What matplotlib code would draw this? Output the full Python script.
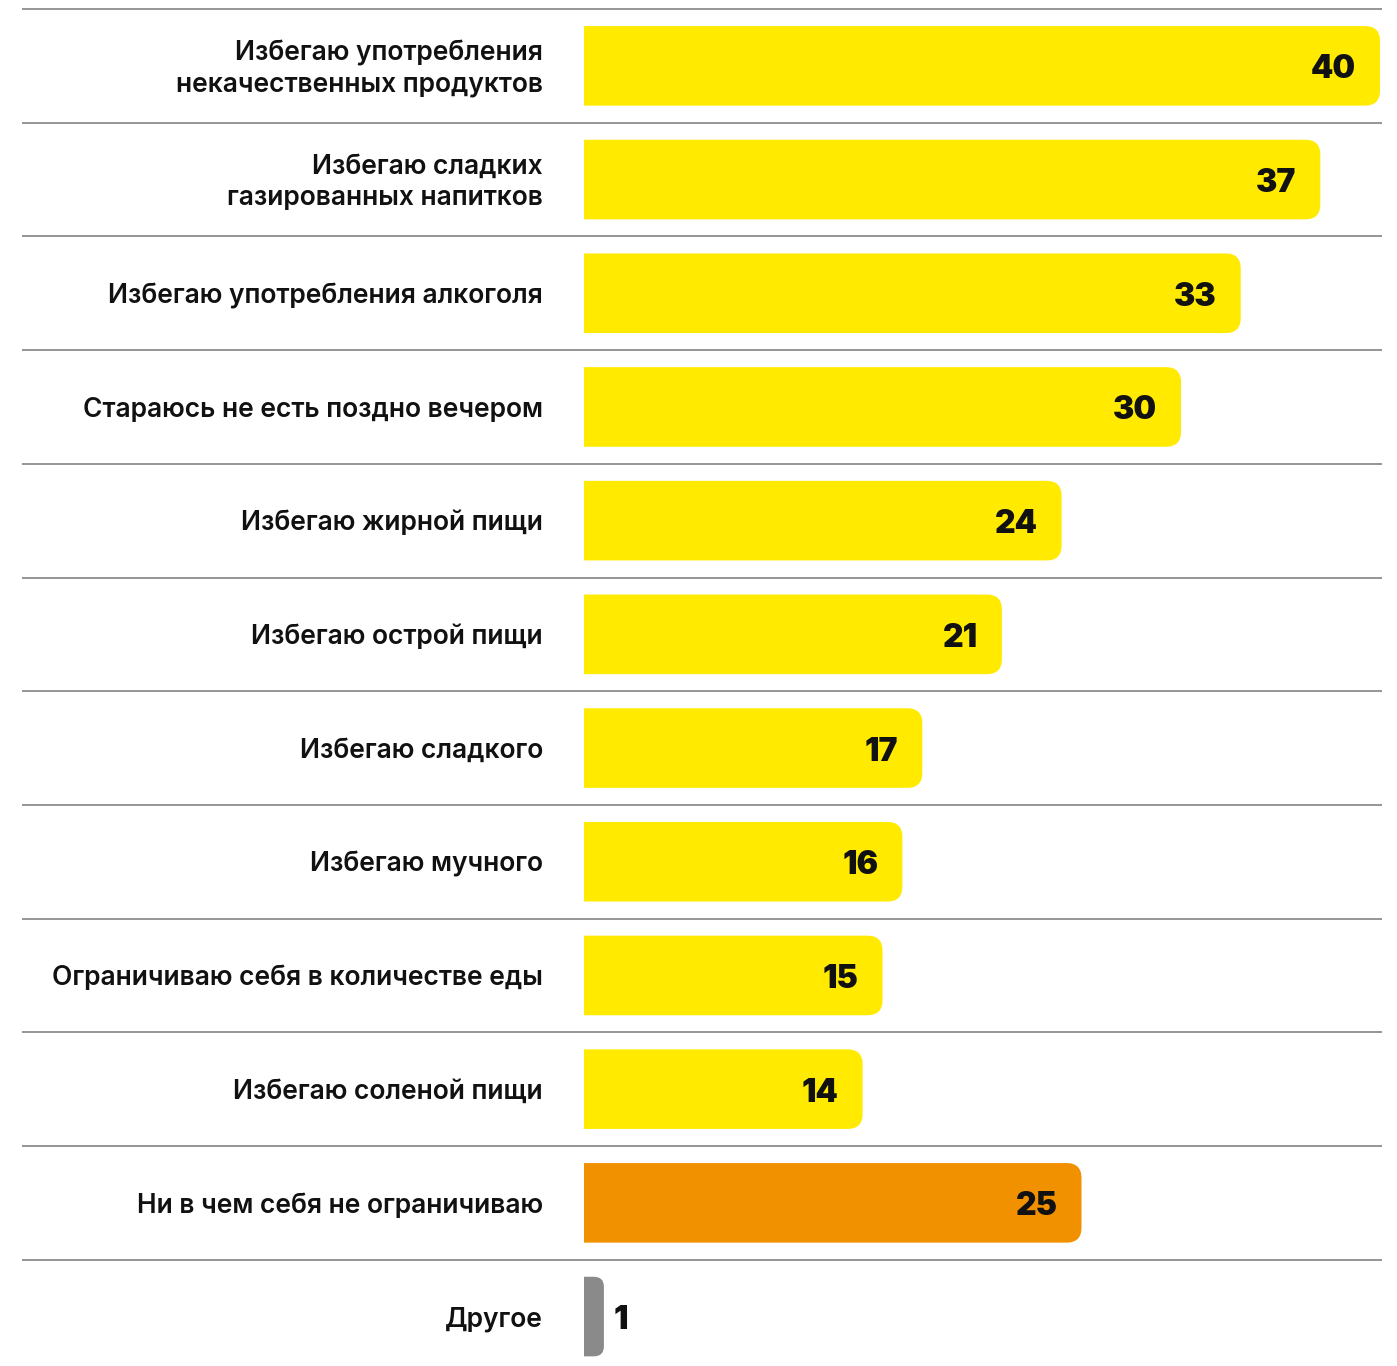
import matplotlib
matplotlib.use("Agg")
import matplotlib.pyplot as plt
from matplotlib.patches import PathPatch
from matplotlib.path import Path

# data
labels = [
    "Избегаю употребления\nнекачественных продуктов",
    "Избегаю сладких\nгазированных напитков",
    "Избегаю употребления алкоголя",
    "Стараюсь не есть поздно вечером",
    "Избегаю жирной пищи",
    "Избегаю острой пищи",
    "Избегаю сладкого",
    "Избегаю мучного",
    "Ограничиваю себя в количестве еды",
    "Избегаю соленой пищи",
    "Ни в чем себя не ограничиваю",
    "Другое",
]
values = [40, 37, 33, 30, 24, 21, 17, 16, 15, 14, 25, 1]
colors = ["#FFEA00"] * 10 + ["#F29100", "#8A8A8A"]

W, H = 1397, 1366
fig = plt.figure(figsize=(W / 100, H / 100), dpi=100)
ax = fig.add_axes([0, 0, 1, 1])

px_x = 19.9      # pixels per value unit
px_y = 113.7     # pixels per row
x0_px = 584
y0_px = 65.85
ax.set_xlim(-x0_px / px_x, (W - x0_px) / px_x)
ax.set_ylim((H - y0_px) / px_y, -y0_px / px_y)
ax.axis("off")

bar_h = 0.70


def right_round_bar(y0, w, h, rpx):
    rx = min(rpx / px_x, w / 2)
    ry = rx * px_x / px_y
    y1 = y0 + h
    verts = [(0, y0), (w - rx, y0), (w, y0), (w, y0 + ry),
             (w, y1 - ry), (w, y1), (w - rx, y1), (0, y1), (0, y0)]
    codes = [Path.MOVETO, Path.LINETO, Path.CURVE3, Path.CURVE3,
             Path.LINETO, Path.CURVE3, Path.CURVE3, Path.LINETO, Path.CLOSEPOLY]
    return Path(verts, codes)


for i, (lab, v, c) in enumerate(zip(labels, values, colors)):
    ax.add_patch(PathPatch(right_round_bar(i - bar_h / 2, v, bar_h, 15),
                           fc=c, ec="none", zorder=2))
    ax.text(-41 / px_x, i + 0.025, lab, ha="right", va="center", fontsize=19,
            family="Inter", fontweight="semibold", color="#111111",
            linespacing=1.25)
    if v >= 5:
        ax.text(v - 1.2, i + 0.035, str(v), ha="right", va="center", fontsize=23,
                family="Inter", fontweight="black", color="#111111", zorder=3)
    else:
        ax.text(v + 0.5, i + 0.035, str(v), ha="left", va="center", fontsize=23,
                family="Inter", fontweight="black", color="#111111", zorder=3)

# separator lines
for i in range(len(labels)):
    ax.plot([(22 - x0_px) / px_x, (1382 - x0_px) / px_x], [i - 0.5, i - 0.5],
            color="#8c8c8c", lw=1.3, zorder=1, solid_capstyle="butt")

fig.savefig("out.png", dpi=100)
